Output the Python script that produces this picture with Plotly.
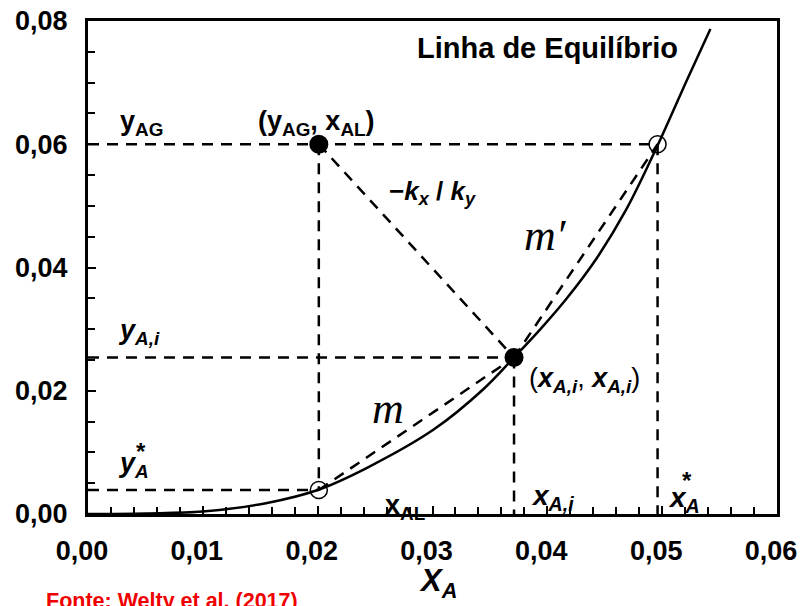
import plotly.graph_objects as go

# Equilibrium curve
eq_x = [0.000, 0.005, 0.010, 0.0156, 0.020, 0.0243, 0.0301, 0.0344, 0.0371, 0.0394, 0.0417, 0.0443, 0.0469, 0.0496, 0.0522, 0.0542]
eq_y = [0.000, 0.0001, 0.0004, 0.0018, 0.0039, 0.0075, 0.0137, 0.0202, 0.0254, 0.0300, 0.0350, 0.0415, 0.0495, 0.0598, 0.0706, 0.0787]

# Key points
x_AL = 0.0201      # bulk liquid composition
y_AG = 0.0600      # bulk gas composition
x_Ai = 0.0371      # interface liquid
y_Ai = 0.0254      # interface gas
x_A_star = 0.0496  # equilibrium with y_AG
y_A_star = 0.0039  # equilibrium with x_AL

x_ticks = [0.00, 0.01, 0.02, 0.03, 0.04, 0.05, 0.06]
y_ticks = [0.00, 0.02, 0.04, 0.06, 0.08]

FONT = "Liberation Sans"
DASH = "11px,8px"
LW = 2.5

fig = go.Figure()

dashed_segments = [
    ([0, x_A_star], [y_AG, y_AG]),          # horizontal at y_AG
    ([x_AL, x_AL], [y_AG, y_A_star]),       # vertical at x_AL
    ([x_AL, x_Ai], [y_AG, y_Ai]),           # -kx/ky line
    ([0, x_Ai], [y_Ai, y_Ai]),              # horizontal at y_Ai
    ([x_Ai, x_Ai], [y_Ai, 0]),              # vertical at x_Ai
    ([x_A_star, x_A_star], [y_AG, 0]),      # vertical at x_A*
    ([0, x_AL], [y_A_star, y_A_star]),      # horizontal at y_A*
    ([x_AL, x_Ai], [y_A_star, y_Ai]),       # chord m
    ([x_Ai, x_A_star], [y_Ai, y_AG]),       # chord m'
]
for sx, sy in dashed_segments:
    fig.add_trace(go.Scatter(x=sx, y=sy, mode="lines",
                             line=dict(color="black", width=LW, dash=DASH),
                             hoverinfo="skip", showlegend=False))

fig.add_trace(go.Scatter(x=eq_x, y=eq_y, mode="lines",
                         line=dict(color="black", width=2.5, shape="spline", smoothing=1.0),
                         hoverinfo="skip", showlegend=False))

fig.add_trace(go.Scatter(x=[x_AL, x_Ai], y=[y_AG, y_Ai], mode="markers",
                         marker=dict(color="black", size=19, symbol="circle"),
                         hoverinfo="skip", showlegend=False))
fig.add_trace(go.Scatter(x=[x_AL, x_A_star], y=[y_A_star, y_AG], mode="markers",
                         marker=dict(color="black", size=17, symbol="circle-open",
                                     line=dict(width=1.5, color="black")),
                         hoverinfo="skip", showlegend=False))

def ann(text, x, y, size=25, xanchor="left", ref="data", family=FONT, color="black", yanchor="middle"):
    d = dict(text=text, x=x, y=y, showarrow=False, xanchor=xanchor, yanchor=yanchor,
             font=dict(family=family, size=size, color=color))
    if ref == "paper":
        d.update(xref="paper", yref="paper")
    fig.add_annotation(**d)

ann("<b>Linha de Equilíbrio</b>", 0.0285, 0.0757, size=29)
ann("<b>y<sub>AG</sub></b>", 0.0026, 0.0635, size=27)
ann("<b>(y<sub>AG</sub>, x<sub>AL</sub>)</b>", 0.0146, 0.0635, size=27)
ann("<b>−<i>k</i><sub><i>x</i></sub> / <i>k</i><sub><i>y</i></sub></b>", 0.0260, 0.0522, size=26)
ann("<i>m′</i>", 0.0398, 0.0452, size=44, xanchor="center", family="Liberation Serif")
ann("<b><i>y</i><sub><i>A,i</i></sub></b>", 0.0024, 0.0296, size=27)
ann("(<b><i>x</i><sub><i>A,i</i></sub></b>, <b><i>x</i><sub><i>A,i</i></sub></b>)", 0.0382, 0.0218, size=27)
ann("<i>m</i>", 0.0261, 0.0172, size=44, xanchor="center", family="Liberation Serif")
ann("<b><i>y</i><sub><i>A</i></sub></b>", 0.0024, 0.0080, size=27)
ann("<b>*</b>", 0.0046, 0.0101, size=24, xanchor="center")
ann("<b>x<sub>AL</sub></b>", 0.0257, 0.0012, size=27)
ann("<b><i>x</i><sub><i>A,i</i></sub></b>", 0.0384, 0.0027, size=28)
ann("<b><i>x</i><sub><i>A</i></sub></b>", 0.0503, 0.0023, size=28)
ann("<b>*</b>", 0.0522, 0.0055, size=24, xanchor="center")
ann("<b><i>X</i><sub><i>A</i></sub></b>", 0.478, -0.14, size=31, ref="paper")
ann("<b>Fonte: Welty et al. (2017)</b>", -0.0640, -0.176, size=21.5, ref="paper", color="#f00000")

axis_common = dict(showline=True, linewidth=3, linecolor="black", mirror=True,
                   showgrid=False, zeroline=False, ticks="inside", ticklen=8,
                   tickwidth=2, tickcolor="black", tickformat=".2f", automargin=False,
                   ticklabeloverflow="allow",
                   tickfont=dict(family=FONT, size=27, color="black", weight="bold"))

fig.update_xaxes(range=[0, 0.06], tickvals=x_ticks, ticklabelstandoff=11, ticklabelshift=-6,
                 minor=dict(dtick=0.002, ticks="inside", ticklen=7, tickwidth=2, tickcolor="black"),
                 **axis_common)
fig.update_yaxes(range=[0, 0.08], tickvals=y_ticks, ticklabelstandoff=12,
                 minor=dict(dtick=0.005, ticks="inside", ticklen=7, tickwidth=2, tickcolor="black"),
                 **axis_common)

fig.update_layout(width=802, height=606, margin=dict(l=88, r=25, t=21, b=92),
                  plot_bgcolor="white", paper_bgcolor="white", separators=",.",
                  showlegend=False)

# remove the page's default body margin and scrollbars so the figure fills the window exactly
fig.write_html("out.html", config={"displayModeBar": False},
               post_script="document.body.style.margin='0';document.body.style.overflow='hidden';")
